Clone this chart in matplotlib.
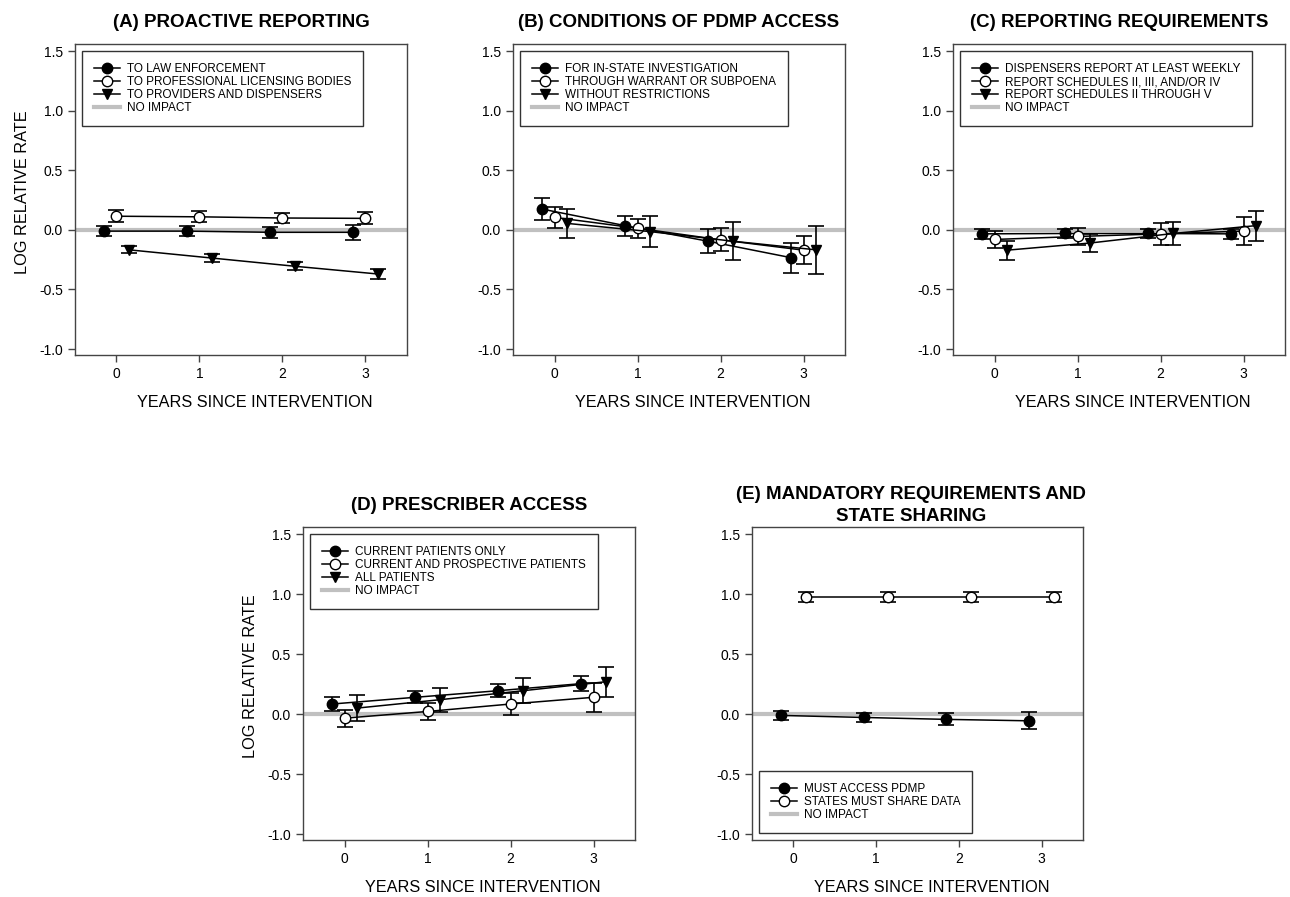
import numpy as np
import matplotlib
matplotlib.use("Agg")
import matplotlib.pyplot as plt
from matplotlib.lines import Line2D

plt.rcParams['font.family'] = ['Liberation Sans', 'DejaVu Sans']

years = [0, 1, 2, 3]

# (A) proactive reporting
a_labels = ["TO LAW ENFORCEMENT", "TO PROFESSIONAL LICENSING BODIES", "TO PROVIDERS AND DISPENSERS"]
a_vals = [[-0.01, -0.01, -0.02, -0.02],
          [0.115, 0.11, 0.10, 0.097],
          [-0.167, -0.236, -0.305, -0.37]]
a_errs = [[0.045, 0.04, 0.045, 0.065],
          [0.05, 0.045, 0.045, 0.05],
          [0.03, 0.03, 0.035, 0.04]]

# (B) conditions of PDMP access
b_labels = ["FOR IN-STATE INVESTIGATION", "THROUGH WARRANT OR SUBPOENA", "WITHOUT RESTRICTIONS"]
b_vals = [[0.175, 0.036, -0.095, -0.233],
          [0.105, 0.014, -0.083, -0.17],
          [0.055, -0.014, -0.095, -0.167]]
b_errs = [[0.09, 0.085, 0.1, 0.125],
          [0.09, 0.08, 0.095, 0.12],
          [0.12, 0.13, 0.16, 0.2]]

# (C) reporting requirements
c_labels = ["DISPENSERS REPORT AT LEAST WEEKLY", "REPORT SCHEDULES II, III, AND/OR IV", "REPORT SCHEDULES II THROUGH V"]
c_vals = [[-0.033, -0.03, -0.03, -0.033],
          [-0.08, -0.055, -0.033, -0.01],
          [-0.17, -0.11, -0.03, 0.036]]
c_errs = [[0.04, 0.035, 0.04, 0.04],
          [0.075, 0.075, 0.09, 0.12],
          [0.08, 0.075, 0.095, 0.125]]

# (D) prescriber access
d_labels = ["CURRENT PATIENTS ONLY", "CURRENT AND PROSPECTIVE PATIENTS", "ALL PATIENTS"]
d_vals = [[0.084, 0.14, 0.195, 0.254],
          [-0.034, 0.022, 0.084, 0.14],
          [0.05, 0.12, 0.195, 0.27]]
d_errs = [[0.06, 0.05, 0.055, 0.065],
          [0.07, 0.07, 0.088, 0.12],
          [0.11, 0.1, 0.105, 0.125]]

# (E) mandatory requirements and state sharing
e_labels = ["MUST ACCESS PDMP", "STATES MUST SHARE DATA"]
e_vals = [[-0.011, -0.028, -0.044, -0.056],
          [0.975, 0.975, 0.975, 0.975]]
e_errs = [[0.04, 0.04, 0.05, 0.07],
          [0.04, 0.04, 0.04, 0.04]]

styles = [dict(marker='o', mfc='black'),
          dict(marker='o', mfc='white'),
          dict(marker='v', mfc='black')]


def draw_panel(ax, title, labels, vals, errs, offsets, legend_loc, ylabel=False,
               title_pad=12):
    ax.axhline(0, color='#c0c0c0', lw=3, zorder=1)
    handles = []
    for i in range(len(labels)):
        x = np.array(years) + offsets[i]
        ax.errorbar(x, vals[i], yerr=errs[i], fmt='none', ecolor='black',
                    elinewidth=1.2, capsize=5.5, capthick=1.2, zorder=2)
        ax.plot(x, vals[i], color='black', lw=1.1, ms=7.5, mec='black',
                zorder=3, **styles[i])
        handles.append(Line2D([], [], color='black', lw=1.1, ms=7.5, mec='black', **styles[i]))
    handles.append(Line2D([], [], color='#c0c0c0', lw=3))
    ax.legend(handles, labels + ["NO IMPACT"], loc=legend_loc, fontsize=8.5,
              frameon=True, fancybox=False, edgecolor='black', borderpad=1.0,
              labelspacing=0.1, handlelength=2.2, handletextpad=0.6,
              borderaxespad=0.6).get_frame().set_linewidth(1.0)
    ax.set_xlim(-0.5, 3.5)
    ax.set_ylim(-1.05, 1.56)
    ax.set_xticks(years)
    ax.set_yticks([-1.0, -0.5, 0.0, 0.5, 1.0, 1.5])
    ax.set_yticklabels(["-1.0", "-0.5", "0.0", "0.5", "1.0", "1.5"])
    ax.tick_params(direction='out', length=5, labelsize=10, width=1, color='#444444')
    for s in ax.spines.values():
        s.set_color('#444444')
        s.set_linewidth(1.0)
    ax.set_xlabel("YEARS SINCE INTERVENTION", fontsize=11.7, labelpad=10)
    ax.xaxis.label.set_x(0.542)
    if ylabel:
        ax.set_ylabel("LOG RELATIVE RATE", fontsize=11.7, labelpad=7)
        ax.yaxis.label.set_y(0.525)
    ax.set_title(title, fontsize=13.5, fontweight='bold', pad=title_pad,
                 linespacing=1.38)


fig = plt.figure(figsize=(12.9, 8.97), dpi=100)
ax_a = fig.add_axes([0.0581, 0.6042, 0.2574, 0.3467])
ax_b = fig.add_axes([0.3977, 0.6042, 0.2574, 0.3467])
ax_c = fig.add_axes([0.7388, 0.6042, 0.2574, 0.3467])
ax_d = fig.add_axes([0.2349, 0.0635, 0.2574, 0.349])
ax_e = fig.add_axes([0.5829, 0.0635, 0.2566, 0.349])

three = [-0.15, 0.0, 0.15]
draw_panel(ax_a, "(A) PROACTIVE REPORTING", a_labels, a_vals, a_errs, three, 'upper left', ylabel=True)
draw_panel(ax_b, "(B) CONDITIONS OF PDMP ACCESS", b_labels, b_vals, b_errs, three, 'upper left')
draw_panel(ax_c, "(C) REPORTING REQUIREMENTS", c_labels, c_vals, c_errs, three, 'upper left')
draw_panel(ax_d, "(D) PRESCRIBER ACCESS", d_labels, d_vals, d_errs, three, 'upper left', ylabel=True)
draw_panel(ax_e, "(E) MANDATORY REQUIREMENTS AND\nSTATE SHARING", e_labels, e_vals, e_errs,
           [-0.15, 0.15], 'lower left', title_pad=4)
ax_e.title.set_x(0.48)

fig.savefig("out.png", dpi=100)
